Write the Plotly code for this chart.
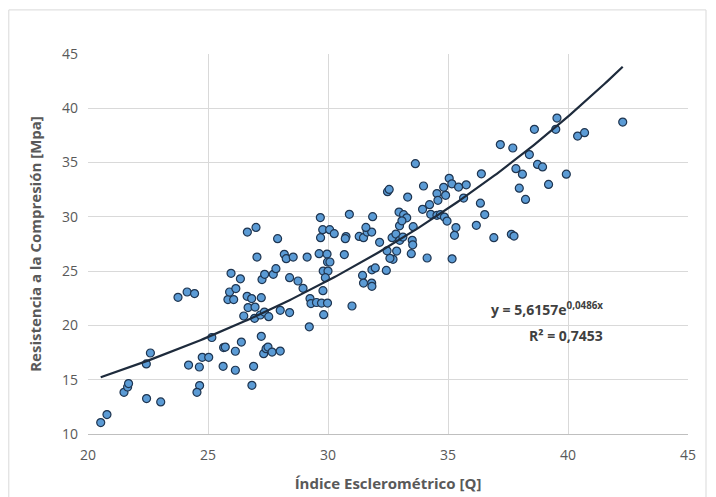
import numpy as np
import plotly.graph_objects as go

# Índice esclerométrico [Q]
indice_q = [
    20.53, 20.79, 21.50, 21.65, 21.69, 22.43, 22.60, 22.44, 23.03, 23.75,
    24.13, 24.44, 24.19, 24.64, 24.65, 24.54, 24.76, 25.03, 25.16, 25.65,
    25.72, 25.63, 26.14, 26.39, 26.14, 26.83, 26.90, 27.22, 27.32, 27.42,
    27.50, 27.67, 28.01, 26.49, 26.63, 26.82, 26.67, 26.96, 27.22, 26.94,
    27.18, 27.35, 27.53, 25.83, 26.07, 25.90, 26.16, 25.96, 26.35, 27.25,
    27.36, 27.72, 27.83, 26.64, 27.00, 27.04, 27.90, 28.01, 28.40, 28.18,
    28.26, 28.55, 28.40, 28.75, 28.96, 29.13, 29.22, 29.25, 29.29, 29.52,
    29.73, 29.98, 29.82, 29.79, 29.63, 29.96, 29.69, 29.68, 29.78, 30.07,
    30.26, 29.80, 30.00, 29.89, 29.98, 30.08,
    30.75, 30.72, 30.89, 30.68, 31.00, 31.30, 31.48, 31.63, 31.82, 31.58,
    31.86, 32.15, 31.44, 31.48, 31.82, 31.83, 31.83, 31.97, 32.43, 32.46,
    32.71, 32.58, 32.86, 32.67, 32.83, 32.96, 32.98, 32.99, 32.48, 32.55,
    33.64, 33.32, 33.98, 34.54, 34.58, 34.82, 34.90, 35.05, 35.16, 35.44,
    35.76, 36.39, 35.65, 37.18, 33.94, 34.23, 34.28, 34.54, 34.68, 34.85,
    34.96, 33.55, 33.51, 33.53, 33.47, 34.13, 35.17, 35.33, 35.27, 36.35,
    36.53, 36.18, 36.91, 33.15, 33.28, 33.08, 33.12,
    37.70, 38.39, 37.83, 38.10, 38.73, 38.94, 39.93, 39.19, 37.97, 38.23,
    37.64, 37.75, 38.60, 39.49, 39.54, 40.40, 40.69, 42.28,
]

# Resistencia a la compresión [MPa]
resistencia = [
    11.05, 11.79, 13.84, 14.33, 14.64, 16.45, 17.46, 13.26, 12.95, 22.59,
    23.08, 22.93, 16.35, 16.17, 14.46, 13.84, 17.06, 17.06, 18.89, 17.96,
    18.01, 16.23, 17.62, 18.47, 15.87, 14.48, 16.23, 19.00, 17.40, 17.86,
    18.01, 17.55, 17.64, 20.87, 22.68, 22.47, 21.64, 21.69, 22.56, 20.65,
    20.96, 21.23, 20.81, 22.38, 22.38, 23.08, 23.39, 24.80, 24.29, 24.22,
    24.71, 24.71, 25.23, 28.60, 29.03, 26.30, 27.99, 21.39, 21.18, 26.55,
    26.15, 26.30, 24.40, 24.09, 23.42, 26.30, 19.87, 22.47, 22.01, 22.11,
    22.06, 22.06, 20.99, 23.20, 26.61, 26.57, 28.08, 29.93, 28.82, 28.82,
    28.45, 25.01, 25.01, 24.40, 25.84, 25.84,
    28.18, 27.99, 30.23, 26.53, 21.79, 28.20, 28.08, 28.60, 28.60, 29.03,
    30.02, 27.65, 24.61, 23.90, 23.90, 23.60, 25.12, 25.30, 25.07, 26.87,
    26.09, 26.18, 26.85, 28.08, 28.41, 30.44, 29.17, 27.84, 32.32, 32.53,
    34.90, 31.82, 32.84, 32.14, 31.52, 32.72, 31.98, 33.55, 33.04, 32.74,
    32.95, 33.96, 31.73, 36.66, 30.69, 31.12, 30.23, 30.14, 30.20, 29.98,
    29.61, 29.10, 27.84, 27.42, 26.61, 26.21, 26.13, 29.01, 28.30, 31.26,
    30.21, 29.22, 28.08, 30.20, 29.91, 29.63, 28.14,
    36.34, 35.74, 34.44, 33.93, 34.83, 34.60, 33.93, 32.99, 32.64, 31.61,
    28.39, 28.23, 38.06, 38.06, 39.10, 37.44, 37.75, 38.73,
]

# Exponential trendline parameters (from the chart)
coef_a = 5.6157
coef_b = 0.0486
x_ticks = [20, 25, 30, 35, 40, 45]
y_ticks = [10, 15, 20, 25, 30, 35, 40, 45]

xs = np.linspace(min(indice_q), max(indice_q), 200)
ys = coef_a * np.exp(coef_b * xs)

font_family = "Open Sans, Noto Sans, sans-serif"

fig = go.Figure()
fig.add_trace(go.Scatter(
    x=indice_q, y=resistencia, mode="markers",
    marker=dict(size=8, color="#5B9BD5", line=dict(color="#1F3550", width=1.2)),
    showlegend=False, hoverinfo="x+y",
))
fig.add_trace(go.Scatter(
    x=xs, y=ys, mode="lines",
    line=dict(color="#1E2B3C", width=2.2),
    showlegend=False, hoverinfo="skip",
))

fig.update_layout(
    width=708, height=489,
    margin=dict(l=80, r=28, t=46, b=63),
    paper_bgcolor="white", plot_bgcolor="white",
    font=dict(family=font_family, color="#595959", size=14),
    xaxis=dict(
        range=[20, 45], tickvals=x_ticks, showgrid=True, gridcolor="#D9D9D9",
        gridwidth=1, zeroline=False, showline=True, linecolor="#BFBFBF",
        linewidth=1, ticks="", automargin=False, ticklabelstandoff=8,
        tickfont=dict(size=14, color="#595959"),
        title=dict(text="<b>Índice Esclerométrico [Q]</b>",
                   font=dict(size=15, color="#595959"), standoff=15),
    ),
    yaxis=dict(
        range=[10, 45], tickvals=y_ticks, showgrid=True, gridcolor="#D9D9D9",
        gridwidth=1, zeroline=False, showline=False, ticks="", automargin=False,
        ticklabelstandoff=9,
        tickfont=dict(size=14, color="#595959"),
        title=dict(text="<b>Resistencia a la Compresión [Mpa]</b>",
                   font=dict(size=15, color="#595959"), standoff=16),
    ),
    shapes=[dict(type="rect", xref="paper", yref="paper",
                 x0=-0.132, x1=1.03, y0=-0.17, y1=1.116,
                 line=dict(color="#D9D9D9", width=1), fillcolor="rgba(0,0,0,0)",
                 layer="below")],
    annotations=[
        dict(text="<b>y = 5,6157e<sup>0,0486x</sup></b>",
             xref="paper", yref="paper", x=0.862, y=0.328,
             xanchor="right", yanchor="middle", showarrow=False,
             font=dict(size=14, color="#404040", family=font_family)),
        dict(text="<b>R² = 0,7453</b>",
             xref="paper", yref="paper", x=0.862, y=0.26,
             xanchor="right", yanchor="middle", showarrow=False,
             font=dict(size=14, color="#404040", family=font_family)),
        dict(text="(b)", xref="paper", yref="paper", x=0.448, y=1.128,
             xanchor="center", yanchor="bottom", showarrow=False,
             font=dict(size=15, color="#595959", family=font_family)),
    ],
)

fig.write_html("out.html")
